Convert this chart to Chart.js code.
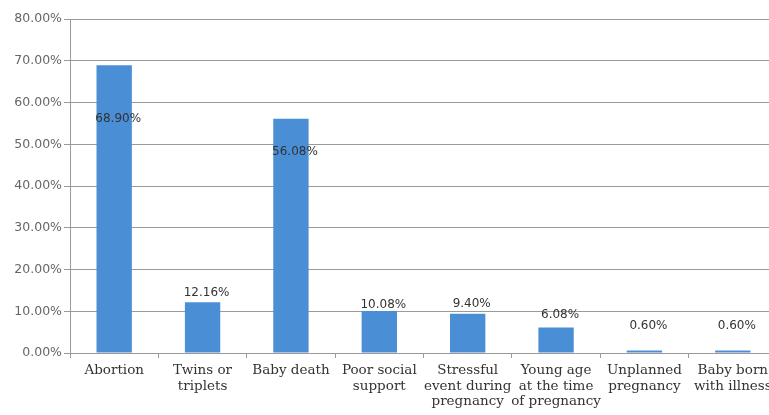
<!DOCTYPE html>
<html>
<head>
<meta charset="utf-8">
<script src="https://cdn.jsdelivr.net/npm/chart.js@4/dist/chart.umd.min.js"></script>
<style>
html,body{margin:0;padding:0;background:#fff;overflow:hidden;}
#wrap{width:777px;height:415px;}
</style>
</head>
<body>
<div id="wrap"><canvas id="c" width="777" height="415"></canvas></div>
<script>
const categories = [
  "Abortion",
  ["Twins or", "triplets"],
  "Baby death",
  ["Poor social", "support"],
  ["Stressful", "event during", "pregnancy"],
  ["Young age", "at the time", "of pregnancy"],
  ["Unplanned", "pregnancy"],
  ["Baby born", "with illness"]
];
const values = [68.90, 12.16, 56.08, 10.08, 9.40, 6.08, 0.60, 0.60];
const valueLabels = ["68.90%", "12.16%", "56.08%", "10.08%", "9.40%", "6.08%", "0.60%", "0.60%"];
const yTicksMax = 80;
const yTickStep = 10;

const labelPlugin = {
  id: 'valueLabels',
  afterDatasetsDraw(chart, args, opts) {
    const ctx = chart.ctx;
    const meta = chart.getDatasetMeta(0);
    ctx.save();
    ctx.font = opts.font;
    ctx.fillStyle = opts.color;
    ctx.textAlign = 'center';
    ctx.textBaseline = 'middle';
    meta.data.forEach((bar, i) => {
      ctx.fillText(valueLabels[i], bar.x + opts.dx, bar.y + opts.dy[i]);
    });
    ctx.restore();
  }
};

new Chart(document.getElementById('c'), {
  type: 'bar',
  data: {
    labels: categories,
    datasets: [{
      data: values,
      backgroundColor: '#4a8ed6',
      borderWidth: 0,
      barPercentage: 0.8,
      categoryPercentage: 0.5
    }]
  },
  plugins: [labelPlugin],
  options: {
    responsive: false,
    animation: false,
    layout: { padding: { top: 19, left: 0, right: 0, bottom: 0 } },
    plugins: {
      legend: { display: false },
      tooltip: { enabled: false },
      valueLabels: {
        font: '12px "DejaVu Sans", sans-serif',
        color: '#333333',
        dx: 4,
        dy: [54, -9, 33, -6, -10, -13, -25, -25]
      }
    },
    scales: {
      x: {
        grid: { drawOnChartArea: false, drawTicks: true, tickLength: 5, color: '#9a9a9a', offset: true },
        border: { display: true, color: '#9a9a9a', width: 1 },
        ticks: {
          font: { family: '"DejaVu Serif", serif', size: 13.5, lineHeight: 1.15 },
          color: '#333333',
          padding: 5,
          maxRotation: 0,
          autoSkip: false
        },
        afterFit(scale) { scale.height = 62; }
      },
      y: {
        min: 0,
        max: yTicksMax,
        grid: { color: '#9a9a9a', lineWidth: 1, drawTicks: true, tickLength: 6 },
        border: { display: true, color: '#9a9a9a', width: 1 },
        ticks: {
          stepSize: yTickStep,
          font: { family: '"DejaVu Sans", sans-serif', size: 12.5 },
          color: '#666666',
          padding: 2,
          callback: v => v.toFixed(2) + '%'
        },
        afterFit(scale) { scale.width = 70; }
      }
    }
  }
});
</script>
</body>
</html>
